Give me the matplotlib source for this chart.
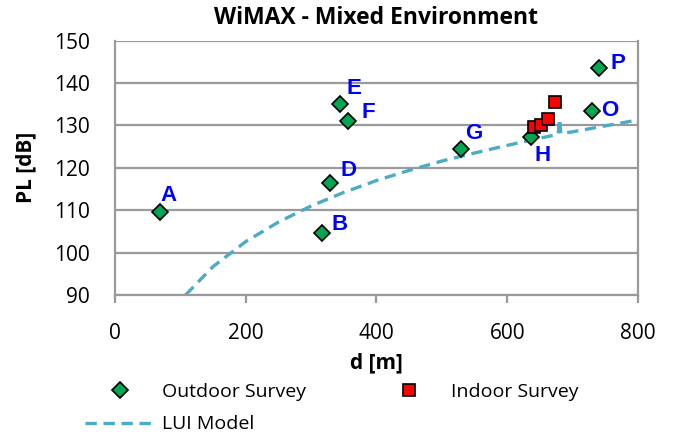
import numpy as np
import matplotlib
matplotlib.use("Agg")
import matplotlib.pyplot as plt

# outdoor survey sites (distance in m, path loss in dB)
outdoor_names = ["A", "B", "D", "E", "F", "G", "H", "O", "P"]
outdoor_d = [69, 316, 329, 344, 356, 530, 637, 730, 740]
outdoor_pl = [109.5, 104.6, 116.5, 135.0, 131.0, 124.5, 127.3, 133.5, 143.5]

# label anchor points for the site letters
label_d = [82, 344, 357, 366, 388, 549, 654, 757, 770]
label_pl = [113.5, 106.6, 119.4, 138.6, 133.0, 128.1, 122.8, 133.5, 144.6]

# indoor survey points
indoor_d = [641, 652, 663, 673]
indoor_pl = [129.6, 130.1, 131.6, 135.5]

# LUI model curve as sampled
model_d = [108, 150, 200, 250, 300, 350, 400, 450, 500, 550, 600, 650,
           678, 680, 682, 700, 750, 800]
model_pl = [90.0, 96.7, 102.6, 107.2, 111.0, 114.2, 117.0, 119.4, 121.6,
            123.5, 125.3, 127.0, 127.9, 131.6, 128.1, 128.5, 129.9, 131.3]

plt.rcParams["font.family"] = ["Open Sans", "DejaVu Sans"]
grid_gray = "#9a9a9a"

fig = plt.figure(figsize=(6.86, 4.34), dpi=100)
ax = fig.add_axes([0.1676, 0.3203, 0.7624, 0.586])

ax.plot(model_d, model_pl, ls=(0, (3.4, 2.0)), color="#4bacc6", lw=2.4,
        label="LUI Model", zorder=2)
ax.plot(outdoor_d, outdoor_pl, ls="none", marker="D", ms=7.8, mfc="#00a651",
        mec="black", mew=1.2, label="Outdoor Survey", zorder=3)
ax.plot(indoor_d, indoor_pl, ls="none", marker="s", ms=8.5, mfc="#ff0000",
        mec="black", mew=1.2, label="Indoor Survey", zorder=4)

for name, x, y in zip(outdoor_names, label_d, label_pl):
    ax.text(x, y, name, color="#0000ff", fontsize=16, fontweight="bold",
            family="Liberation Sans", ha="center", va="center", zorder=5)

ax.set_xlim(0, 800)
ax.set_ylim(90, 150)
ax.set_xticks(np.arange(0, 801, 200))
ax.set_yticks(np.arange(90, 151, 10))
ax.yaxis.grid(True, color=grid_gray, lw=1.6)
ax.set_axisbelow(True)
for side in ["left", "bottom", "right"]:
    ax.spines[side].set_color(grid_gray)
    ax.spines[side].set_linewidth(1.6)
ax.spines["top"].set_visible(False)
ax.tick_params(axis="x", length=6, width=1.6, color=grid_gray, labelsize=15, pad=14)
ax.tick_params(axis="y", length=0, labelsize=15, pad=18)

ax.set_title("WiMAX - Mixed Environment", fontsize=16.5, fontweight="bold", pad=12)
ax.set_xlabel("d [m]", fontsize=15, fontweight="bold", labelpad=6)
ax.set_ylabel("PL [dB]", fontsize=15, fontweight="bold", labelpad=13)

handles, labels = ax.get_legend_handles_labels()
order = [1, 0, 2]
fig.legend([handles[i] for i in order], [labels[i] for i in order],
           loc="upper left", bbox_to_anchor=(0.124, 0.118), ncol=2, frameon=False,
           fontsize=14, handlelength=3.6, columnspacing=3.5, labelspacing=0.75,
           handletextpad=0.36, borderpad=0, borderaxespad=0)

fig.savefig("out.png", dpi=100)
